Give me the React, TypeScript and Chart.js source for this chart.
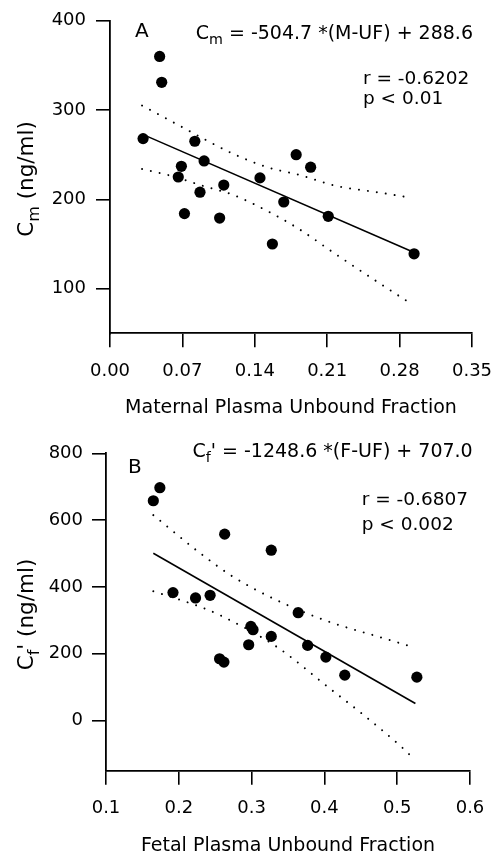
import React, { useEffect, useRef } from "react";
import { Chart, registerables } from "chart.js";

Chart.register(...registerables);

const FONT = "'DejaVu Sans', sans-serif";

// ---------- Panel A : maternal ----------
const maternalUF = [0.032, 0.048, 0.050, 0.082, 0.069, 0.066, 0.091, 0.087, 0.110, 0.145, 0.180, 0.194, 0.072, 0.106, 0.168, 0.211, 0.157, 0.294];
const maternalCm = [268, 360, 331, 265, 237, 225, 243, 208, 216, 224, 250, 236, 184, 179, 197, 181, 150, 139];
const fitAX = [0.031, 0.293];
const fitAY = [273, 141];
const upperAX = [0.031, 0.068, 0.095, 0.119, 0.152, 0.184, 0.219, 0.258, 0.29];
const upperAY = [305, 282, 265, 251, 236, 227, 215, 208, 202];
const lowerAX = [0.031, 0.06, 0.09, 0.119, 0.152, 0.181, 0.219, 0.258, 0.29];
const lowerAY = [234, 226, 215, 205, 187, 168, 138, 108, 84];
const xTicksA = [0, 0.07, 0.14, 0.21, 0.28, 0.35];
const yTicksA = [100, 200, 300, 400];

// ---------- Panel B : fetal ----------
const fetalUF = [0.165, 0.174, 0.192, 0.223, 0.243, 0.263, 0.327, 0.364, 0.256, 0.262, 0.296, 0.299, 0.302, 0.327, 0.377, 0.402, 0.428, 0.527];
const fetalCf = [658, 697, 383, 367, 375, 558, 510, 323, 185, 175, 227, 282, 272, 252, 225, 190, 136, 130];
const fitBX = [0.165, 0.525];
const fitBY = [501, 51];
const upperBX = [0.165, 0.23, 0.272, 0.33, 0.401, 0.479, 0.525];
const upperBY = [615, 500, 434, 365, 300, 248, 218];
const lowerBX = [0.165, 0.23, 0.257, 0.335, 0.408, 0.452, 0.509, 0.523];
const lowerBY = [387, 340, 315, 220, 95, 20, -85, -115];
const xTicksB = [0.1, 0.2, 0.3, 0.4, 0.5, 0.6];
const yTicksB = [0, 200, 400, 600, 800];

type Seg = { t: string; sub?: boolean };
type Txt = { segs: Seg[]; x: number; y: number; size: number; align: "left" | "right" | "center"; rotate?: boolean };

const zip = (xs: number[], ys: number[]) => xs.map((x, i) => ({ x, y: ys[i] }));

function drawRich(ctx: CanvasRenderingContext2D, t: Txt) {
  const subSize = t.size * 0.75;
  const widthOf = (s: Seg) => {
    ctx.font = `${s.sub ? subSize : t.size}px ${FONT}`;
    return ctx.measureText(s.t).width;
  };
  const total = t.segs.reduce((a, s) => a + widthOf(s), 0);
  ctx.save();
  ctx.fillStyle = "#000";
  ctx.textBaseline = "alphabetic";
  ctx.textAlign = "left";
  ctx.translate(t.x, t.y);
  if (t.rotate) ctx.rotate(-Math.PI / 2);
  let x0 = t.align === "left" ? 0 : t.align === "right" ? -total : -total / 2;
  for (const s of t.segs) {
    ctx.font = `${s.sub ? subSize : t.size}px ${FONT}`;
    ctx.fillText(s.t, x0, s.sub ? t.size * 0.28 : 0);
    x0 += ctx.measureText(s.t).width;
  }
  ctx.restore();
}

function textPlugin(texts: Txt[]) {
  return {
    id: "texts",
    afterDraw(chart: any) {
      const ctx = chart.ctx as CanvasRenderingContext2D;
      texts.forEach((t) => drawRich(ctx, t));
    },
  };
}

type PanelCfg = {
  px: number[]; py: number[];
  fx: number[]; fy: number[];
  ux: number[]; uy: number[];
  lx: number[]; ly: number[];
  xTicks: number[]; yTicks: number[];
  xMin: number; xMax: number; yMin: number; yMax: number;
  xDigits: number;
  padTop: number; padRight: number; yWidth: number; xHeight: number;
  yPad: number; xPad: number; tickLen: number;
  texts: Txt[];
};

function Panel({ cfg, top }: { cfg: PanelCfg; top: number }) {
  const ref = useRef<HTMLCanvasElement | null>(null);
  useEffect(() => {
    if (!ref.current) return;
    const band = (xs: number[], ys: number[]) => ({
      type: "scatter" as const,
      data: zip(xs, ys),
      showLine: true,
      pointRadius: 0,
      borderColor: "#000",
      borderWidth: 2,
      borderDash: [0.01, 9],
      borderCapStyle: "round" as const,
      cubicInterpolationMode: "monotone" as const,
      fill: false,
    });
    const chart = new Chart(ref.current, {
      type: "scatter",
      data: {
        datasets: [
          {
            data: zip(cfg.px, cfg.py),
            pointRadius: 5.6,
            pointBackgroundColor: "#000",
            pointBorderColor: "#000",
            pointBorderWidth: 0,
            showLine: false,
          },
          {
            data: zip(cfg.fx, cfg.fy),
            showLine: true,
            pointRadius: 0,
            borderColor: "#000",
            borderWidth: 1.6,
          },
          band(cfg.ux, cfg.uy),
          band(cfg.lx, cfg.ly),
        ] as any,
      },
      plugins: [textPlugin(cfg.texts)],
      options: {
        responsive: false,
        animation: false,
        events: [],
        layout: { padding: { top: cfg.padTop, right: cfg.padRight, left: 0, bottom: 0 } },
        plugins: { legend: { display: false }, tooltip: { enabled: false } },
        scales: {
          x: {
            type: "linear",
            min: cfg.xMin,
            max: cfg.xMax,
            afterBuildTicks: (s: any) => {
              s.ticks = cfg.xTicks.map((v) => ({ value: v }));
            },
            afterFit: (s: any) => {
              s.height = cfg.xHeight;
              s.paddingLeft = 0;
              s.paddingRight = 0;
            },
            ticks: {
              color: "#000",
              font: { family: FONT, size: 18 },
              padding: cfg.xPad,
              maxRotation: 0,
              autoSkip: false,
              callback: (v: any) => Number(v).toFixed(cfg.xDigits),
            },
            grid: { drawOnChartArea: false, drawTicks: true, tickLength: cfg.tickLen, color: "#000", lineWidth: 1.6 },
            border: { display: true, color: "#000", width: 1.8 },
          },
          y: {
            type: "linear",
            min: cfg.yMin,
            max: cfg.yMax,
            afterBuildTicks: (s: any) => {
              s.ticks = cfg.yTicks.map((v) => ({ value: v }));
            },
            afterFit: (s: any) => {
              s.width = cfg.yWidth;
              s.paddingTop = 0;
              s.paddingBottom = 0;
            },
            ticks: {
              color: "#000",
              font: { family: FONT, size: 18 },
              padding: cfg.yPad,
              autoSkip: false,
              callback: (v: any) => String(v),
            },
            grid: { drawOnChartArea: false, drawTicks: true, tickLength: cfg.tickLen, color: "#000", lineWidth: 1.6 },
            border: { display: true, color: "#000", width: 1.8 },
          },
        },
      } as any,
    });
    return () => chart.destroy();
  }, [cfg]);
  return (
    <canvas
      ref={ref}
      width={492}
      height={428}
      style={{ position: "absolute", left: 0, top, width: 492, height: 428 }}
    />
  );
}

const cfgA: PanelCfg = {
  px: maternalUF, py: maternalCm,
  fx: fitAX, fy: fitAY,
  ux: upperAX, uy: upperAY,
  lx: lowerAX, ly: lowerAY,
  xTicks: xTicksA, yTicks: yTicksA,
  xMin: 0, xMax: 0.35, yMin: 50, yMax: 400,
  xDigits: 2,
  padTop: 20.7, padRight: 20, yWidth: 110, xHeight: 428 - 333.3,
  yPad: 10, xPad: 13, tickLen: 14,
  texts: [
    { segs: [{ t: "A" }], x: 135, y: 37.3, size: 20, align: "left" },
    { segs: [{ t: "C" }, { t: "m", sub: true }, { t: " = -504.7 *(M-UF) + 288.6" }], x: 473, y: 38.5, size: 19, align: "right" },
    { segs: [{ t: "r = -0.6202" }], x: 363, y: 83.5, size: 18.5, align: "left" },
    { segs: [{ t: "p < 0.01" }], x: 363, y: 103.5, size: 18.5, align: "left" },
    { segs: [{ t: "Maternal Plasma Unbound Fraction" }], x: 291, y: 413, size: 19, align: "center" },
    { segs: [{ t: "C" }, { t: "m", sub: true }, { t: " (ng/ml)" }], x: 33, y: 179, size: 21.5, align: "center", rotate: true },
  ],
};

const cfgB: PanelCfg = {
  px: fetalUF, py: fetalCf,
  fx: fitBX, fy: fitBY,
  ux: upperBX, uy: upperBY,
  lx: lowerBX, ly: lowerBY,
  xTicks: xTicksB, yTicks: yTicksB,
  xMin: 0.1, xMax: 0.6, yMin: -150, yMax: 800,
  xDigits: 1,
  padTop: 25.3, padRight: 22, yWidth: 106, xHeight: 428 - 342.7,
  yPad: 9, xPad: 13, tickLen: 14,
  texts: [
    { segs: [{ t: "B" }], x: 128, y: 45.3, size: 20, align: "left" },
    { segs: [{ t: "C" }, { t: "f", sub: true }, { t: "' = -1248.6 *(F-UF) + 707.0" }], x: 472.7, y: 28.7, size: 19, align: "right" },
    { segs: [{ t: "r = -0.6807" }], x: 361.7, y: 77, size: 18.5, align: "left" },
    { segs: [{ t: "p < 0.002" }], x: 361.7, y: 102, size: 18.5, align: "left" },
    { segs: [{ t: "Fetal Plasma Unbound Fraction" }], x: 288, y: 423, size: 19, align: "center" },
    { segs: [{ t: "C" }, { t: "f", sub: true }, { t: "' (ng/ml)" }], x: 33, y: 186.5, size: 21.5, align: "center", rotate: true },
  ],
};

export default function App() {
  return (
    <div style={{ position: "absolute", left: 0, top: 0, width: 492, height: 856, background: "#fff" }}>
      <Panel cfg={cfgA} top={0} />
      <Panel cfg={cfgB} top={428} />
    </div>
  );
}
